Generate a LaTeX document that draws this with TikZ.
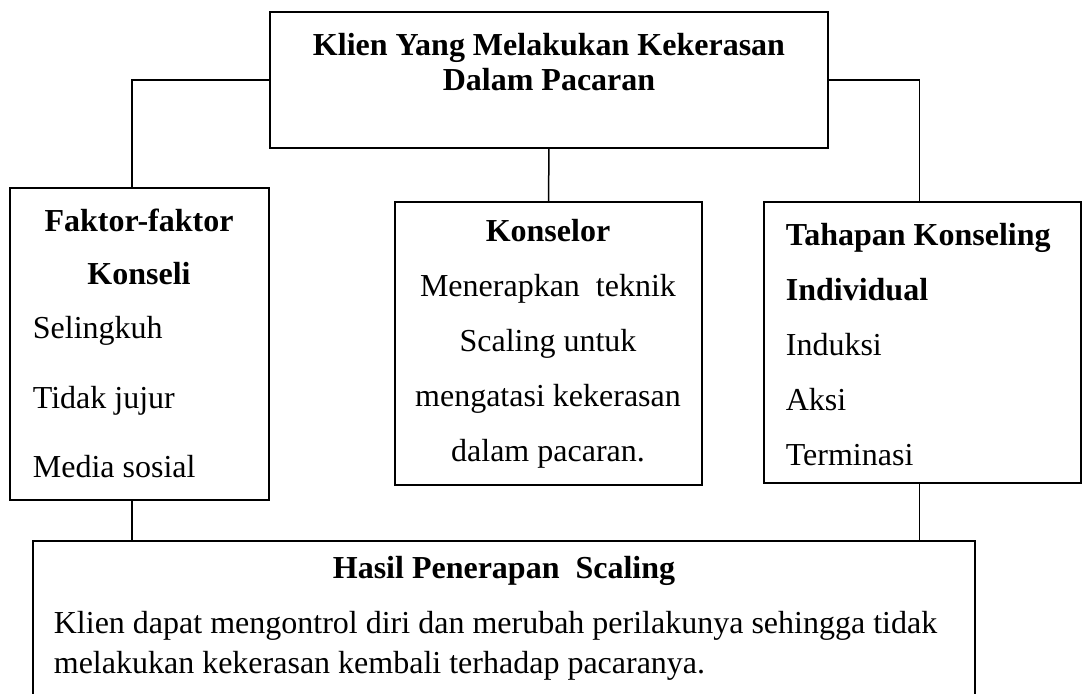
\documentclass[tikz,border=0pt]{standalone}
\usepackage{fontspec}
\setmainfont{Liberation Serif}

\begin{document}
\begin{tikzpicture}[x=0.4pt,y=-0.4pt,line width=0.7pt,
    box node/.style={draw,rectangle,inner sep=0pt,outer sep=0pt},
    head node/.style={inner sep=0pt,align=center,font=\bfseries},
    list node/.style={inner sep=0pt,align=left,anchor=west}]
                \clip (0,0) rectangle (1082,694);
                % kotak
                \node[box node,minimum width=223.2pt,minimum height=54.4pt] (klien) at (549,80) {};
                \node[box node,minimum width=103.6pt,minimum height=124.8pt] (faktor) at (139.5,344) {};
                \node[box node,minimum width=122.8pt,minimum height=113.2pt] (konselor) at (548.5,343.5) {};
                \node[box node,minimum width=126.8pt,minimum height=112.4pt] (tahapan) at (922.5,342.5) {};
                \node[box node,minimum width=376.8pt,minimum height=67.6pt] (hasil) at (504,625.5) {};

                % teks
                \node[head node,font=\fontsize{12.8}{14}\selectfont\bfseries] (klienteks) at (549,62) {Klien Yang Melakukan Kekerasan\\Dalam Pacaran};
                \node[head node,font=\fontsize{12.8}{21.2}\selectfont\bfseries] (faktorjudul) at (139,246.5) {Faktor-faktor\\Konseli};
                \node[list node,font=\fontsize{12.8}{27.8}\selectfont] (faktorisi) at (32,397.5) {Selingkuh\\Tidak jujur\\Media sosial};
                \node[inner sep=0pt,align=center,font=\fontsize{12.8}{22}\selectfont] (konselorteks) at (548,344) {\textbf{Konselor}\\Menerapkan\ \ teknik\\Scaling untuk\\mengatasi kekerasan\\dalam pacaran.};
                \node[list node,font=\fontsize{12.8}{22}\selectfont] (tahapanteks) at (785,345) {\textbf{Tahapan Konseling}\\\textbf{Individual}\\Induksi\\Aksi\\Terminasi};
                \node[head node,font=\fontsize{12.8}{14}\selectfont\bfseries] (hasiljudul) at (504,571) {Hasil Penerapan\ \ Scaling};
                \node[list node,font=\fontsize{12.8}{16}\selectfont] (hasilisi) at (53,646) {Klien dapat mengontrol diri dan merubah perilakunya sehingga tidak\\melakukan kekerasan kembali terhadap pacaranya.};

                % garis
                \draw[line width=0.6pt] (klien.west) -| ([xshift=-3pt]faktor.north);
                \draw[line width=0.6pt] (klien.east) -| ([xshift=-1.2pt]tahapan.north);
                \draw[line width=0.6pt] (klien.south) -- (konselor.north);
                \draw[line width=0.6pt] ([xshift=-3pt]faktor.south) -- ([xshift=-3pt]faktor.south |- hasil.north);
                \draw[line width=0.6pt] ([xshift=-1.2pt]tahapan.south) -- ([xshift=-1.2pt]tahapan.south |- hasil.north);
\end{tikzpicture}
\end{document}
